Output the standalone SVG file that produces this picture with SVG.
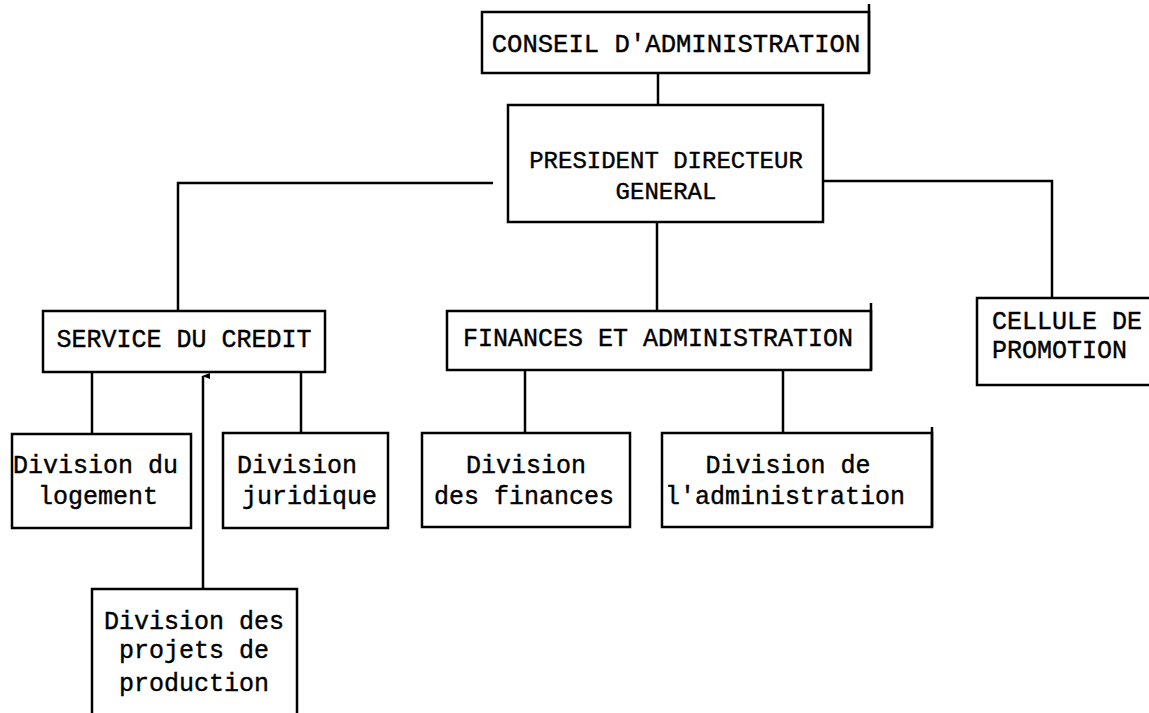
<svg xmlns="http://www.w3.org/2000/svg" width="1149" height="713" viewBox="0 0 1149 713">
<style>
.box{fill:#fff;stroke:#000;stroke-width:2.5}
.ln{fill:none;stroke:#000;stroke-width:2.5}
text{font-family:"Liberation Mono","Courier New",monospace;font-size:25px;fill:#000;text-anchor:middle;stroke:#000;stroke-width:0.4}
</style>
<defs>
<marker id="ah" viewBox="0 0 6 10" refX="3" refY="1" markerWidth="6" markerHeight="10" markerUnits="userSpaceOnUse" orient="auto-start-reverse">
<path d="M3,0 L6,8 L0,8 Z" fill="#000"/>
</marker>
</defs>
<rect width="1149" height="713" fill="#fff"/>
<g id="connectors">
<line class="ln" x1="658" y1="73" x2="658" y2="105"/>
<polyline class="ln" points="493,183 178,183 178,313"/>
<polyline class="ln" points="823,181 1052,181 1052,300"/>
<line class="ln" x1="657" y1="222" x2="657" y2="311"/>
<line class="ln" x1="92" y1="372" x2="92" y2="434"/>
<line class="ln" x1="301" y1="372" x2="301" y2="433"/>
<line class="ln" x1="203" y1="589" x2="203" y2="376" marker-end="url(#ah)"/>
<line class="ln" x1="525" y1="370" x2="525" y2="433"/>
<line class="ln" x1="783" y1="370" x2="783" y2="433"/>
</g>
<g id="conseil">
<rect class="box" x="482" y="12" width="387" height="61"/>
<line class="ln" x1="869" y1="4" x2="869" y2="73"/>
<text x="676" y="52" style="font-size:25.6px">CONSEIL D'ADMINISTRATION</text>
</g>
<g id="pdg">
<rect class="box" x="508" y="105" width="315" height="117"/>
<text x="666" y="168" style="font-size:24px">PRESIDENT DIRECTEUR</text>
<text x="666" y="199" style="font-size:24px">GENERAL</text>
</g>
<g id="service">
<rect class="box" x="43" y="311" width="282" height="61"/>
<text x="184" y="347">SERVICE DU CREDIT</text>
</g>
<g id="finances">
<rect class="box" x="447" y="311" width="424" height="59"/>
<line class="ln" x1="871" y1="303" x2="871" y2="370"/>
<text x="658" y="346">FINANCES ET ADMINISTRATION</text>
</g>
<g id="cellule">
<rect class="box" x="977" y="298" width="200" height="87"/>
<text x="992" y="329" style="text-anchor:start">CELLULE DE</text>
<text x="992" y="358" style="text-anchor:start">PROMOTION</text>
</g>
<g id="logement">
<rect class="box" x="12" y="434" width="179" height="94"/>
<text x="13" y="473" style="text-anchor:start">Division du</text>
<text x="38" y="504" style="text-anchor:start">logement</text>
</g>
<g id="juridique">
<rect class="box" x="223" y="433" width="165" height="95"/>
<text x="237" y="473" style="text-anchor:start">Division</text>
<text x="242" y="504" style="text-anchor:start">juridique</text>
</g>
<g id="projets">
<rect class="box" x="92" y="589" width="205" height="150"/>
<text x="194" y="629">Division des</text>
<text x="194" y="658">projets de</text>
<text x="194" y="691">production</text>
</g>
<g id="div-finances">
<rect class="box" x="422" y="433" width="208" height="94"/>
<text x="526" y="473">Division</text>
<text x="524" y="504">des finances</text>
</g>
<g id="div-admin">
<rect class="box" x="662" y="433" width="270" height="94"/>
<line class="ln" x1="932" y1="427" x2="932" y2="527"/>
<text x="788" y="473">Division de</text>
<text x="785" y="504">l'administration</text>
</g>
</svg>
